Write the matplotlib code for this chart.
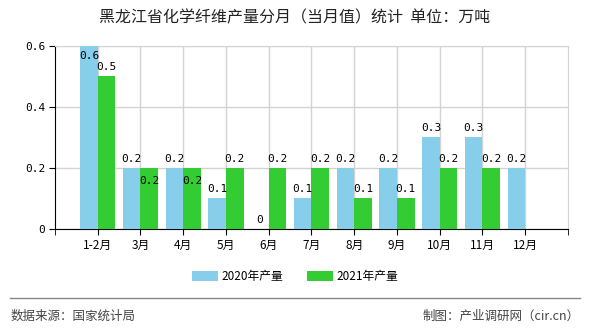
import matplotlib
matplotlib.use('Agg')
import matplotlib.pyplot as plt
import numpy as np

plt.rcParams['font.family'] = ['Noto Sans CJK SC', 'DejaVu Sans']

# data
months = ['1-2月', '3月', '4月', '5月', '6月', '7月', '8月', '9月', '10月', '11月', '12月']
prod_2020 = [0.6, 0.2, 0.2, 0.1, 0, 0.1, 0.2, 0.2, 0.3, 0.3, 0.2]
prod_2021 = [0.5, 0.2, 0.2, 0.2, 0.2, 0.2, 0.1, 0.1, 0.2, 0.2, None]
yticks = [0, 0.2, 0.4, 0.6]
ytick_labels = ['0', '0.2', '0.4', '0.6']

blue = '#87CEEB'
green = '#33CC33'

fig = plt.figure(figsize=(5.9, 3.3), dpi=100)
ax = fig.add_axes([0.0932, 0.3061, 0.8695, 0.5545])

x = np.arange(len(months))
w = 0.41
v20 = np.array(prod_2020, dtype=float)
v21 = np.array([np.nan if v is None else v for v in prod_2021])

ax.bar(x - w / 2, v20, w, color=blue, zorder=3, label='2020年产量')
ax.bar(x + w / 2, np.nan_to_num(v21), w, color=green, zorder=3, label='2021年产量')

ax.set_xlim(-1, 11)
ax.set_ylim(0, 0.6)

lbl = dict(family='DejaVu Sans Mono', fontsize=8, color='black', ha='center', zorder=5)
for i in range(len(months)):
    a = v20[i]
    # blue label
    if a >= 0.6:
        ax.annotate(f'{a:g}', (x[i] - w / 2, a), xytext=(0, -11), textcoords='offset points',
                    va='bottom', **lbl)
    else:
        ax.annotate(f'{a:g}', (x[i] - w / 2, a), xytext=(0, 3), textcoords='offset points',
                    va='bottom', **lbl)
    b = v21[i]
    if np.isnan(b):
        continue
    off = -13 if b == a else 3
    ax.annotate(f'{b:g}', (x[i] + w / 2, b), xytext=(0, off), textcoords='offset points',
                va='bottom', **lbl)

ax.set_yticks(yticks)
ax.set_yticklabels(ytick_labels, family='DejaVu Sans Mono', fontsize=8)
ax.set_xticks(x)
ax.set_xticklabels(months, fontsize=8.5)
ax.set_xticks([-1, 11], minor=True)
ax.tick_params(axis='x', which='both', length=4, color='black', direction='out', pad=3)
ax.tick_params(axis='y', length=4, color='black', direction='out', pad=3)

ax.grid(True, color='#d3d3d3', linewidth=1, zorder=0)
ax.set_axisbelow(True)
for s in ['top', 'right']:
    ax.spines[s].set_color('#d3d3d3')
ax.spines['left'].set_color('black')
ax.spines['bottom'].set_color('black')

fig.text(0.5, 0.945, '黑龙江省化学纤维产量分月（当月值）统计  单位：万吨',
         ha='center', va='center', fontsize=11.5, color='#222222')

fig.legend(loc='center', bbox_to_anchor=(0.5, 0.163), ncol=2, frameon=False,
           fontsize=8.5, handlelength=2.2, handleheight=0.9, columnspacing=2.0,
           handletextpad=0.3)

fig.add_artist(plt.Line2D([0.017, 0.983], [0.097, 0.097], color='#888888', linewidth=1))
fig.text(0.017, 0.042, '数据来源：国家统计局', ha='left', va='center', fontsize=9, color='#444444')
fig.text(0.983, 0.042, '制图：产业调研网（cir.cn）', ha='right', va='center', fontsize=9, color='#444444')

fig.savefig('out.png', dpi=100)
